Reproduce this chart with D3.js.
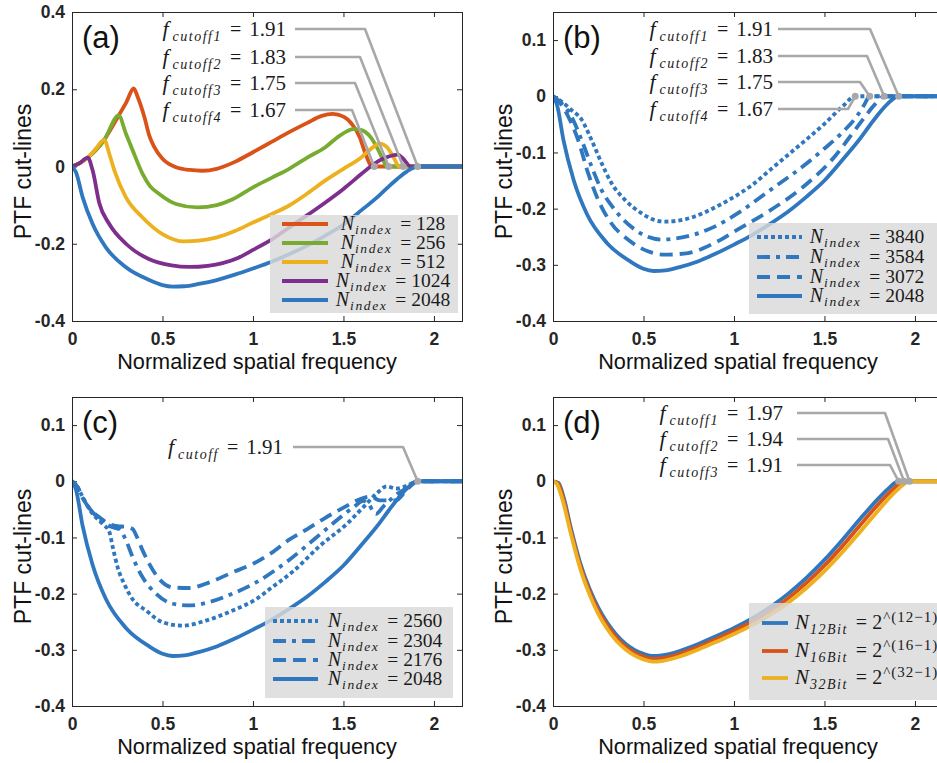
<!DOCTYPE html>
<html><head><meta charset="utf-8">
<script src="https://cdn.jsdelivr.net/npm/d3@7"></script>
<style>body{margin:0;background:#fff}svg{display:block}</style>
</head><body>
<script>
// ---------------- DATA ----------------
const xTicks = [0, 0.5, 1, 1.5, 2];
const yTicksA = [-0.4, -0.2, 0, 0.2, 0.4];
const yTicksB = [-0.4, -0.3, -0.2, -0.1, 0, 0.1];

// Panel (a)
const a128 = [[0,0],[0.04,0.008],[0.087,0.023],[0.178,0.069],[0.258,0.132],[0.30,0.166],[0.341,0.202],[0.363,0.18],[0.40,0.128],[0.427,0.08],[0.455,0.05],[0.50,0.02],[0.575,-0.002],[0.65,-0.009],[0.72,-0.011],[0.8,-0.006],[0.9,0.012],[1.0,0.037],[1.1,0.063],[1.2,0.089],[1.3,0.113],[1.38,0.131],[1.44,0.136],[1.5,0.129],[1.55,0.108],[1.59,0.076],[1.62,0.035],[1.66,0],[2.2,0]];
const a256 = [[0,0],[0.04,0.008],[0.087,0.023],[0.178,0.069],[0.258,0.132],[0.298,0.085],[0.335,0.042],[0.39,-0.019],[0.43,-0.05],[0.482,-0.071],[0.575,-0.097],[0.694,-0.106],[0.8,-0.1],[0.888,-0.085],[1.0,-0.054],[1.1,-0.03],[1.2,-0.006],[1.3,0.023],[1.4,0.05],[1.48,0.08],[1.555,0.097],[1.6,0.094],[1.65,0.076],[1.69,0.045],[1.72,0.016],[1.74,0],[2.2,0]];
const a512 = [[0,0],[0.04,0.008],[0.087,0.023],[0.13,0.045],[0.178,0.069],[0.206,0.033],[0.234,-0.01],[0.298,-0.08],[0.39,-0.132],[0.5,-0.175],[0.62,-0.194],[0.7,-0.192],[0.796,-0.184],[0.9,-0.167],[1.0,-0.145],[1.1,-0.124],[1.2,-0.101],[1.3,-0.07],[1.4,-0.036],[1.5,-0.006],[1.6,0.024],[1.65,0.045],[1.70,0.059],[1.74,0.05],[1.77,0.03],[1.81,0],[2.2,0]];
const a1024 = [[0,0],[0.04,0.008],[0.087,0.023],[0.114,-0.01],[0.151,-0.095],[0.206,-0.149],[0.298,-0.2],[0.427,-0.24],[0.55,-0.256],[0.65,-0.26],[0.75,-0.257],[0.832,-0.25],[0.92,-0.236],[1.0,-0.216],[1.1,-0.19],[1.2,-0.158],[1.3,-0.126],[1.4,-0.093],[1.5,-0.058],[1.6,-0.019],[1.65,0],[1.7,0.016],[1.75,0.026],[1.8,0.031],[1.83,0.02],[1.87,0],[2.2,0]];
const a2048 = [[0,0],[0.022,-0.015],[0.059,-0.08],[0.114,-0.149],[0.188,-0.21],[0.298,-0.261],[0.427,-0.294],[0.5,-0.307],[0.556,-0.311],[0.62,-0.31],[0.7,-0.304],[0.8,-0.294],[0.9,-0.28],[1.0,-0.264],[1.1,-0.247],[1.2,-0.227],[1.3,-0.205],[1.4,-0.179],[1.5,-0.15],[1.6,-0.113],[1.7,-0.074],[1.75,-0.052],[1.8,-0.031],[1.85,-0.013],[1.91,0],[2.2,0]];
const legendA = ['128','256','512','1024','2048'];
const cutoffA = ['1.91','1.83','1.75','1.67'];
const cutoffValA = [1.91, 1.83, 1.75, 1.67];

// Panel (b)
const b3840 = [[0,0],[0.055,-0.011],[0.1,-0.024],[0.157,-0.041],[0.212,-0.077],[0.267,-0.118],[0.322,-0.154],[0.396,-0.184],[0.488,-0.208],[0.55,-0.219],[0.617,-0.223],[0.7,-0.221],[0.783,-0.214],[0.9,-0.197],[1.022,-0.175],[1.1,-0.158],[1.2,-0.131],[1.3,-0.104],[1.4,-0.077],[1.5,-0.049],[1.6,-0.018],[1.67,0],[2.2,0]];
const b3584 = [[0,0],[0.04,-0.01],[0.1,-0.035],[0.157,-0.077],[0.212,-0.124],[0.267,-0.166],[0.341,-0.202],[0.451,-0.237],[0.598,-0.255],[0.746,-0.249],[0.893,-0.232],[1.022,-0.208],[1.2,-0.167],[1.38,-0.125],[1.5,-0.093],[1.6,-0.064],[1.68,-0.035],[1.72,-0.015],[1.75,0],[2.2,0]];
const b3072 = [[0,0],[0.04,-0.012],[0.09,-0.04],[0.138,-0.077],[0.193,-0.136],[0.249,-0.184],[0.322,-0.226],[0.414,-0.255],[0.525,-0.276],[0.617,-0.282],[0.746,-0.279],[0.893,-0.261],[1.022,-0.237],[1.2,-0.203],[1.38,-0.162],[1.565,-0.104],[1.65,-0.068],[1.72,-0.038],[1.78,-0.014],[1.83,0],[2.2,0]];
const b2048 = a2048;
const legendB = ['3840','3584','3072','2048'];

// Panel (c)
const c2560 = [[0,0],[0.03,-0.01],[0.059,-0.028],[0.114,-0.058],[0.17,-0.076],[0.206,-0.09],[0.225,-0.117],[0.252,-0.153],[0.289,-0.183],[0.335,-0.21],[0.409,-0.23],[0.501,-0.251],[0.611,-0.257],[0.74,-0.248],[0.888,-0.23],[1.017,-0.21],[1.1,-0.19],[1.223,-0.16],[1.37,-0.115],[1.518,-0.076],[1.61,-0.046],[1.683,-0.022],[1.739,-0.009],[1.79,-0.013],[1.85,-0.008],[1.91,0],[2.2,0]];
const c2304 = [[0,0],[0.03,-0.01],[0.059,-0.03],[0.114,-0.055],[0.17,-0.072],[0.225,-0.082],[0.261,-0.085],[0.298,-0.105],[0.335,-0.135],[0.39,-0.171],[0.464,-0.2],[0.556,-0.218],[0.648,-0.221],[0.759,-0.215],[0.888,-0.2],[1.017,-0.18],[1.2,-0.14],[1.35,-0.1],[1.48,-0.065],[1.56,-0.045],[1.61,-0.035],[1.64,-0.04],[1.66,-0.052],[1.68,-0.058],[1.72,-0.045],[1.8,-0.022],[1.86,-0.01],[1.91,0],[2.2,0]];
const c2176 = [[0,0],[0.03,-0.01],[0.06,-0.03],[0.1,-0.05],[0.151,-0.064],[0.2,-0.075],[0.25,-0.08],[0.30,-0.081],[0.335,-0.085],[0.36,-0.1],[0.39,-0.123],[0.427,-0.147],[0.482,-0.174],[0.556,-0.189],[0.648,-0.19],[0.759,-0.18],[0.888,-0.162],[1.0,-0.147],[1.1,-0.128],[1.2,-0.104],[1.3,-0.085],[1.4,-0.065],[1.5,-0.047],[1.59,-0.032],[1.65,-0.027],[1.7,-0.034],[1.74,-0.034],[1.79,-0.034],[1.85,-0.015],[1.91,0],[2.2,0]];
const c2048 = a2048;
const legendC = ['2560','2304','2176','2048'];
const cutoffC = ['1.91'];
const cutoffValC = [1.91];

// Panel (d)
const d12 = [[0,0],[0.03,-0.003],[0.06,-0.03],[0.1,-0.085],[0.15,-0.145],[0.2,-0.19],[0.25,-0.225],[0.3,-0.252],[0.35,-0.273],[0.4,-0.289],[0.45,-0.3],[0.5,-0.307],[0.55,-0.311],[0.6,-0.31],[0.7,-0.302],[0.8,-0.29],[0.9,-0.276],[1.0,-0.261],[1.1,-0.244],[1.2,-0.224],[1.3,-0.2],[1.4,-0.172],[1.5,-0.14],[1.6,-0.104],[1.7,-0.066],[1.8,-0.03],[1.85,-0.014],[1.91,0],[2.2,0]];
const d16 = [[0,0],[0.03,-0.005],[0.06,-0.035],[0.1,-0.09],[0.15,-0.15],[0.2,-0.195],[0.25,-0.23],[0.3,-0.257],[0.35,-0.278],[0.4,-0.294],[0.45,-0.305],[0.5,-0.312],[0.55,-0.316],[0.6,-0.315],[0.7,-0.307],[0.8,-0.295],[0.9,-0.281],[1.0,-0.266],[1.1,-0.25],[1.2,-0.231],[1.3,-0.208],[1.4,-0.181],[1.5,-0.15],[1.6,-0.115],[1.7,-0.077],[1.8,-0.04],[1.88,-0.014],[1.94,0],[2.2,0]];
const d32 = [[0,0],[0.02,-0.004],[0.05,-0.03],[0.1,-0.095],[0.15,-0.155],[0.2,-0.2],[0.25,-0.236],[0.3,-0.263],[0.35,-0.284],[0.4,-0.299],[0.45,-0.31],[0.5,-0.317],[0.55,-0.321],[0.6,-0.32],[0.7,-0.312],[0.8,-0.3],[0.9,-0.286],[1.0,-0.272],[1.1,-0.256],[1.2,-0.238],[1.3,-0.216],[1.4,-0.19],[1.5,-0.16],[1.6,-0.126],[1.7,-0.089],[1.8,-0.051],[1.9,-0.016],[1.97,0],[2.2,0]];
const legendDSub = ['12Bit','16Bit','32Bit'];
const legendDExp = ['12\u22121','16\u22121','32\u22121'];
const cutoffD = ['1.97','1.94','1.91'];
const cutoffValD = [1.97, 1.94, 1.91];

// ---------------- STYLE ----------------
const BLUE='#2f77bf', ORANGE='#D95319', YELLOW='#EDB120', PURPLE='#7E2F8E', GREEN='#77AC30';
const GRAY='#a8a8a8', AXC='#262626';
const SANS='"Liberation Sans", Arial, sans-serif';
const SERIF='"Liberation Serif", "Times New Roman", serif';
const XMAX=2.155;
const DOT='4,3', DASHDOT='13,6,4,6', DASH='13,7';

const W=937,H=763;
const svg=d3.select('body').append('svg').attr('width',W).attr('height',H);
svg.append('rect').attr('width',W).attr('height',H).attr('fill','#fff');
const fmt = d => String(d);

function mathText(g, x, y, anchor, parts){
  const t=g.append('text').attr('x',x).attr('y',y).attr('text-anchor',anchor)
    .attr('font-family',SERIF).attr('fill','#1a1a1a');
  parts.forEach(p=>{
    const s=t.append('tspan').text(p.t).attr('font-size',p.size);
    if(p.italic) s.attr('font-style','italic');
    if(p.dx) s.attr('dx',p.dx);
    if(p.dy) s.attr('dy',p.dy);
    if(p.ls) s.attr('letter-spacing',p.ls);
  });
  return t;
}

function drawPanel(cfg){
  const x=d3.scaleLinear().domain([0,XMAX]).range([cfg.left,cfg.right]);
  const y=d3.scaleLinear().domain(cfg.yDomain).range([cfg.bottom,cfg.top]);
  const g=svg.append('g');
  const clipId='clip'+cfg.id;
  svg.append('clipPath').attr('id',clipId).append('rect')
    .attr('x',cfg.left).attr('y',cfg.top).attr('width',cfg.right-cfg.left).attr('height',cfg.bottom-cfg.top);

  // axes
  const ax=g.append('g');
  ax.append('g').attr('transform',`translate(0,${cfg.bottom})`)
    .call(d3.axisBottom(x).tickValues(xTicks).tickSizeInner(-5).tickSizeOuter(0).tickPadding(12).tickFormat(fmt));
  ax.append('g').attr('transform',`translate(0,${cfg.top})`)
    .call(d3.axisTop(x).tickValues(xTicks).tickSizeInner(-5).tickSizeOuter(0).tickFormat(''));
  ax.append('g').attr('transform',`translate(${cfg.left},0)`)
    .call(d3.axisLeft(y).tickValues(cfg.yTicks).tickSizeInner(-5).tickSizeOuter(0).tickPadding(7).tickFormat(fmt));
  ax.append('g').attr('transform',`translate(${cfg.right},0)`)
    .call(d3.axisRight(y).tickValues(cfg.yTicks).tickSizeInner(-5).tickSizeOuter(0).tickFormat(''));
  ax.selectAll('.domain').remove();
  ax.selectAll('.tick line').attr('stroke',AXC);
  ax.selectAll('.tick text').attr('font-size',17.5).attr('font-weight','bold')
    .attr('fill',AXC).attr('font-family',SANS);

  // lines
  const line=d3.line().x(d=>x(d[0])).y(d=>y(d[1])).curve(d3.curveMonotoneX);
  const lg=g.append('g').attr('clip-path',`url(#${clipId})`);
  cfg.series.forEach(s=>{
    lg.append('path').attr('d',line(s.data)).attr('fill','none')
      .attr('stroke',s.color).attr('stroke-width',s.width||3.8)
      .attr('stroke-dasharray',s.dash||null)
      .attr('stroke-linejoin','round');
  });

  // box
  g.append('rect').attr('x',cfg.left+0.5).attr('y',cfg.top+0.5)
    .attr('width',cfg.right-cfg.left).attr('height',cfg.bottom-cfg.top)
    .attr('fill','none').attr('stroke',AXC).attr('stroke-width',1);

  // annotations
  const an=cfg.annot;
  an.labels.forEach((lab,i)=>{
    const ry=an.rows[i];
    const pts=[[an.start,ry],[an.bends[i],ry],[x(an.vals[i]),y(0)]];
    g.append('path').attr('d',d3.line()(pts)).attr('fill','none')
      .attr('stroke',GRAY).attr('stroke-width',2.6).attr('stroke-linejoin','round');
    g.append('circle').attr('cx',x(an.vals[i])).attr('cy',y(0)).attr('r',3.5).attr('fill',GRAY);
    mathText(g, an.textEnd, ry+7, 'end', [
      {t:'f', size:22, italic:true},
      {t:an.subs[i], size:14, italic:true, dx:4, dy:5, ls:1.5},
      {t:'=', size:20, dx:8, dy:-5},
      {t:lab, size:21, dx:8}
    ]);
  });

  // legend
  const L=cfg.legend;
  g.append('rect').attr('x',L.x0).attr('y',L.y0).attr('width',L.x1-L.x0).attr('height',L.y1-L.y0)
    .attr('fill','#d9d9d9').attr('fill-opacity',0.82);
  L.items.forEach((it,i)=>{
    const ry=L.rows[i];
    g.append('line').attr('x1',L.lx0).attr('x2',L.lx1).attr('y1',ry).attr('y2',ry)
      .attr('stroke',it.color).attr('stroke-width',3.8).attr('stroke-dasharray',it.dash||null);
    mathText(g, L.tx, ry+6, L.anchor, it.parts);
  });

  // panel label
  g.append('text').attr('x',cfg.left+10).attr('y',cfg.top+36).text(cfg.label)
    .attr('font-family',SANS).attr('font-size',31).attr('fill','#111');
  // axis labels
  g.append('text').attr('x',cfg.left+185).attr('y',cfg.bottom+48).attr('text-anchor','middle')
    .text('Normalized spatial frequency').attr('font-family',SANS).attr('font-size',21.7).attr('fill','#111');
  g.append('text').attr('transform',`translate(${cfg.left-41},${(cfg.top+cfg.bottom)/2+5}) rotate(-90)`)
    .attr('text-anchor','middle').text('PTF cut-lines').attr('font-family',SANS).attr('font-size',23).attr('fill','#111');
}

function nIndex(v){
  return [{t:'N', size:20, italic:true},{t:'index', size:13.5, italic:true, dx:1, dy:4, ls:1.6},{t:'= '+v, size:19.5, dx:8, dy:-4}];
}

// Panel (a)
drawPanel({
  id:'a', label:'(a)', left:72, right:462, top:12, bottom:321, yDomain:[-0.4,0.4], yTicks:yTicksA,
  series:[{data:a128,color:ORANGE},{data:a256,color:GREEN},{data:a512,color:YELLOW},{data:a1024,color:PURPLE},{data:a2048,color:BLUE}],
  annot:{start:295, textEnd:286, rows:[29,57,83,110], bends:[365,360,355,352], vals:cutoffValA, labels:cutoffA,
         subs:['cutoff1','cutoff2','cutoff3','cutoff4']},
  legend:{x0:270,x1:458,y0:215,y1:313,lx0:282,lx1:328,tx:393,anchor:'middle',rows:[224,243,262,281,300],
    items:legendA.map((v,i)=>({color:[ORANGE,GREEN,YELLOW,PURPLE,BLUE][i],parts:nIndex(v)}))}
});

// Panel (b)
drawPanel({
  id:'b', label:'(b)', left:553, right:943, top:12, bottom:321, yDomain:[-0.4,0.15], yTicks:yTicksB,
  series:[{data:b2048,color:BLUE},{data:b3072,color:BLUE,dash:DASH},{data:b3584,color:BLUE,dash:DASHDOT},{data:b3840,color:BLUE,dash:DOT}],
  annot:{start:778, textEnd:773, rows:[29,56,82,109], bends:[870,867,860,848], vals:cutoffValA, labels:cutoffA,
         subs:['cutoff1','cutoff2','cutoff3','cutoff4']},
  legend:{x0:749,x1:950,y0:223,y1:314,lx0:757,lx1:802,tx:867,anchor:'middle',rows:[237,257,277,296],
    items:legendB.map((v,i)=>({color:BLUE,dash:[DOT,DASHDOT,DASH,null][i],parts:nIndex(v)}))}
});

// Panel (c)
drawPanel({
  id:'c', label:'(c)', left:72, right:462, top:397, bottom:706, yDomain:[-0.4,0.15], yTicks:yTicksB,
  series:[{data:c2048,color:BLUE},{data:c2176,color:BLUE,dash:DASH},{data:c2304,color:BLUE,dash:DASHDOT},{data:c2560,color:BLUE,dash:DOT}],
  annot:{start:293, textEnd:283, rows:[447], bends:[403], vals:cutoffValC, labels:cutoffC, subs:['cutoff']},
  legend:{x0:265,x1:453,y0:607,y1:698,lx0:273,lx1:318,tx:385,anchor:'middle',rows:[621,641,660,679],
    items:legendC.map((v,i)=>({color:BLUE,dash:[DOT,DASHDOT,DASH,null][i],parts:nIndex(v)}))}
});

// Panel (d)
drawPanel({
  id:'d', label:'(d)', left:553, right:943, top:397, bottom:706, yDomain:[-0.4,0.15], yTicks:yTicksB,
  series:[{data:d12,color:BLUE},{data:d16,color:ORANGE},{data:d32,color:YELLOW}],
  annot:{start:797, textEnd:783, rows:[413,439,465], bends:[885,888,890], vals:cutoffValD, labels:cutoffD,
         subs:['cutoff1','cutoff2','cutoff3']},
  legend:{x0:749,x1:950,y0:603,y1:700,lx0:762,lx1:788,tx:795,anchor:'start',rows:[623,651,678],
    items:legendDSub.map((s,i)=>({color:[BLUE,ORANGE,YELLOW][i],parts:[
      {t:'N', size:21, italic:true},{t:s, size:14, italic:true, dx:1, dy:5, ls:1.5},
      {t:'= 2', size:20, dx:8, dy:-5},{t:'^('+legendDExp[i]+')', size:15, dx:1, dy:-7, ls:1}]}))}
});
</script>
</body></html>
